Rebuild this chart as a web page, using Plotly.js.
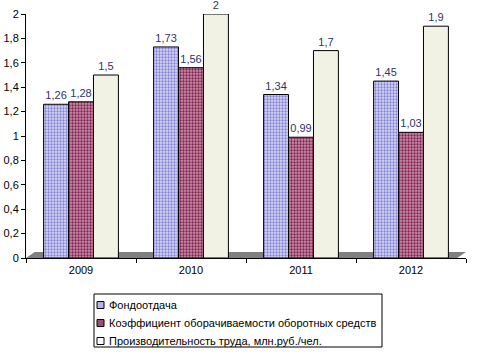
<!DOCTYPE html>
<html><head><meta charset="utf-8">
<script src="https://cdn.plot.ly/plotly-3.0.1.min.js"></script>
<style>html,body{margin:0;padding:0;background:#fff}#c{width:478px;height:356px}</style>
</head><body><div id="c"></div>
<script>
const years = ['2009', '2010', '2011', '2012'];
const fondootdacha = [1.26, 1.73, 1.34, 1.45];
const koefOborach = [1.28, 1.56, 0.99, 1.03];
const proizvod = [1.5, 2, 1.7, 1.9];
const seriesNames = ['Фондоотдача', 'Коэффициент оборачиваемости оборотных средств', 'Производительность труда, млн.руб./чел.'];
const yTicks = [0, 0.2, 0.4, 0.6, 0.8, 1, 1.2, 1.4, 1.6, 1.8, 2];

const fmt = v => String(v).replace('.', ',');
const styles = [
  {bg: '#d8d8f4', fg: '#8080d8', shape: '.', swatch: '#b4b4ea'},
  {bg: '#c890a8', fg: '#802050', shape: '.', swatch: '#a04a74'},
  {bg: '#f2f2e4', fg: '#d8d8c0', shape: '', swatch: '#ffffff'}
];
const data = [fondootdacha, koefOborach, proizvod].map((vals, i) => ({
  type: 'bar', x: years, y: vals, name: seriesNames[i],
  text: vals.map(fmt), textposition: 'outside', cliponaxis: false,
  textfont: {family: 'Liberation Sans, Arial', size: 11, color: '#303070'},
  marker: {color: styles[i].bg, line: {color: '#000', width: 1},
    pattern: {shape: styles[i].shape, fgcolor: styles[i].fg, bgcolor: styles[i].bg, size: 3, solidity: 0.45}},
  hoverinfo: 'skip'
}));

// plot area in pixels
const W = 478, H = 356, L = 26, R = 12, T = 14, B = 98;
const pw = W - L - R, ph = H - T - B;
const px = x => (x - L) / pw;
const py = y => (H - B - y) / ph;

const shapes = [
  {type: 'path', xref: 'paper', yref: 'paper',
   path: 'M 0 0 L 0.02 0.025 L 1 0.025 L 0.98 0 Z', fillcolor: '#808080', line: {width: 0}, layer: 'below'},
  {type: 'rect', xref: 'paper', yref: 'paper', x0: px(94), x1: px(382), y0: py(294), y1: py(347),
   line: {color: '#000', width: 1}, fillcolor: 'rgba(0,0,0,0)'}
];
const annotations = [];
const rowY = [305, 323, 341];
seriesNames.forEach((n, i) => {
  shapes.push({type: 'rect', xref: 'paper', yref: 'paper', x0: px(97), x1: px(104), y0: py(rowY[i] - 3.5), y1: py(rowY[i] + 3.5),
    line: {color: '#000', width: 1}, fillcolor: styles[i].swatch});
  annotations.push({xref: 'paper', yref: 'paper', x: px(107), y: py(rowY[i]), xanchor: 'left', yanchor: 'middle',
    text: n, showarrow: false, font: {family: 'Liberation Sans, Arial', size: 11, color: '#000'}});
});

const layout = {
  width: W, height: H,
  margin: {l: L, r: R, t: T, b: B, autoexpand: false},
  paper_bgcolor: '#fff', plot_bgcolor: '#fff',
  font: {family: 'Liberation Sans, Arial', size: 11, color: '#000'},
  barmode: 'group', bargap: 0.32, bargroupgap: 0,
  showlegend: false,
  xaxis: {type: 'category', showline: true, linecolor: '#000', linewidth: 1,
    ticks: 'outside', tickson: 'boundaries', ticklen: 4, tickcolor: '#000',
    showgrid: false, tickfont: {size: 11}, ticklabelstandoff: 2},
  yaxis: {range: [0, 2], tickvals: yTicks, ticktext: yTicks.map(fmt),
    showline: true, linecolor: '#000', linewidth: 1, ticks: 'outside', ticklen: 4,
    tickcolor: '#000', showgrid: false, zeroline: false, tickfont: {size: 11}},
  shapes: shapes,
  annotations: annotations
};
Plotly.newPlot('c', data, layout, {staticPlot: true});
</script></body></html>
